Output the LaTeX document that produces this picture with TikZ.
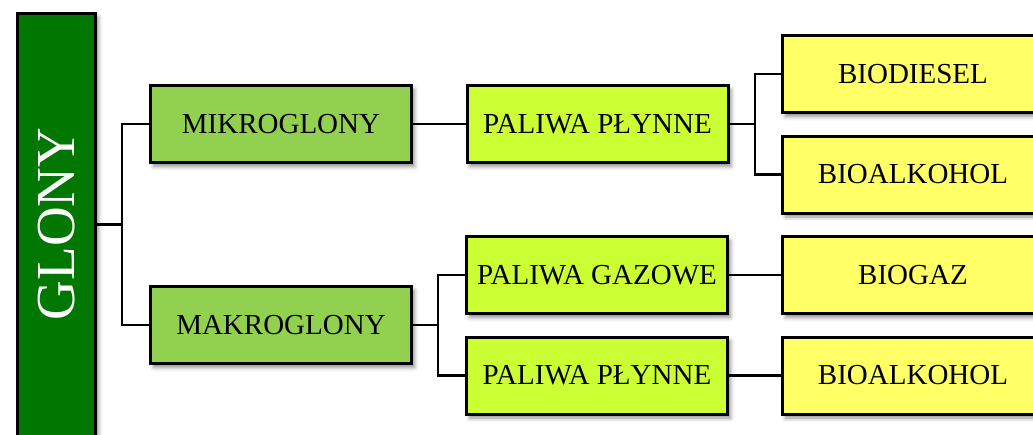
\documentclass[tikz,border=0pt]{standalone}
\usepackage{fontspec}
\setmainfont{Liberation Serif}
\usetikzlibrary{shadows.blur}
\definecolor{gdark}{HTML}{007700}
\definecolor{gmid}{HTML}{92D050}
\definecolor{glime}{HTML}{CCFF33}
\definecolor{gyel}{HTML}{FFFF66}
\begin{document}
\begin{tikzpicture}[x=1pt,y=-1pt,
  box/.style={draw=black, line width=3pt, minimum width=261pt, minimum height=77pt,
    inner sep=0pt, font=\fontsize{29}{31}\selectfont,
    blur shadow={shadow xshift=3pt, shadow yshift=-4pt, shadow blur radius=4pt, shadow opacity=45}},
  conn/.style={line width=2.5pt}]
\useasboundingbox (0,0) rectangle (1033,434);
% root
\node[draw=black, line width=3pt, fill=gdark, minimum width=78pt, minimum height=423pt, inner sep=0pt,
  blur shadow={shadow xshift=3pt, shadow yshift=-4pt, shadow blur radius=4pt, shadow opacity=45}] (glony) at (56.5,224.5) {};
\node[rotate=90, text=white, font=\fontsize{55}{58}\selectfont, inner sep=0pt] (glonylabel) at (57,224) {GLONY};
% level 1
\node[box, fill=gmid] (mikro) at (281,124) {MIKROGLONY};
\node[box, fill=gmid] (makro) at (281,325) {MAKROGLONY};
% level 2
\node[box, fill=glime] (p1) at (597.5,124) {PALIWA PŁYNNE};
\node[box, fill=glime] (pg) at (597,275) {PALIWA GAZOWE};
\node[box, fill=glime] (p2) at (597,375.5) {PALIWA PŁYNNE};
% level 3
\node[box, fill=gyel] (bd) at (913,74) {BIODIESEL};
\node[box, fill=gyel] (ba1) at (913,174.5) {BIOALKOHOL};
\node[box, fill=gyel] (bg) at (913,275) {BIOGAZ};
\node[box, fill=gyel] (ba2) at (913,375.5) {BIOALKOHOL};
% junctions
\coordinate (j1) at (122,224.5);
\coordinate (j2) at (755,124);
\coordinate (j3) at (438,325);
% connectors
\draw[conn] (glony.east) -- (j1);
\draw[conn] (mikro.west) -| (j1) |- (makro.west);
\draw[conn] (mikro.east) -- (p1.west);
\draw[conn] (p1.east) -- (j2);
\draw[conn] (bd.west) -| (j2) |- (ba1.west);
\draw[conn] (makro.east) -- (j3);
\draw[conn] (pg.west) -| (j3) |- (p2.west);
\draw[conn] (pg.east) -- (bg.west);
\draw[conn] (p2.east) -- (ba2.west);
\end{tikzpicture}
\end{document}
